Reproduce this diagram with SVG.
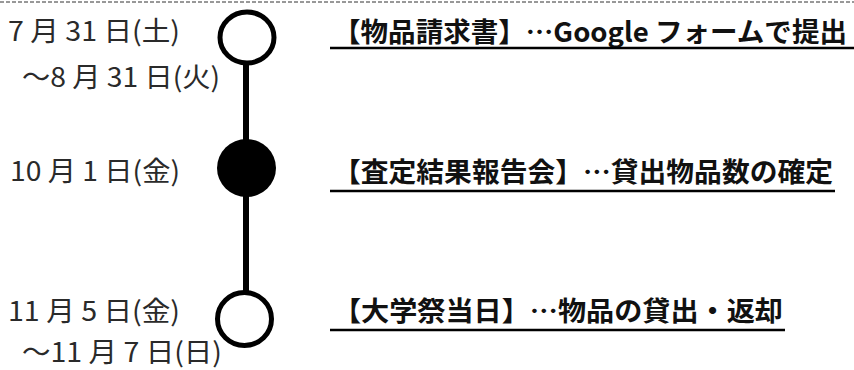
<svg xmlns="http://www.w3.org/2000/svg" width="854" height="370" viewBox="0 0 854 370">
<style>
.date{font-family:"Noto Sans CJK JP","Noto Sans",sans-serif;font-size:27px;fill:#2a2a2a;}
.ev{font-family:"Noto Sans CJK JP","Noto Sans",sans-serif;font-size:27px;font-weight:bold;fill:#111;}
.ul{stroke:#000;stroke-width:2.5;}
.ring{fill:#fff;stroke:#000;stroke-width:5;}
</style>
<rect width="854" height="370" fill="#fff"/>
<line x1="0" y1="2" x2="854" y2="2" stroke="#333" stroke-width="1" stroke-dasharray="4 2"/>
<g id="connectors">
<line x1="246" y1="60" x2="246" y2="292" stroke="#000" stroke-width="6"/>
</g>
<g id="node1">
<ellipse class="ring" cx="247" cy="37.5" rx="27" ry="25.5"/>
<text class="date" x="8" y="41" textLength="172" lengthAdjust="spacingAndGlyphs">7 月 31 日(土)</text>
<text class="date" x="22" y="87" textLength="198" lengthAdjust="spacingAndGlyphs">～8 月 31 日(火)</text>
<text class="ev" x="333" y="42" textLength="514" lengthAdjust="spacingAndGlyphs">【物品請求書】…Google フォームで提出</text>
<line class="ul" x1="330" y1="48" x2="854" y2="48"/>
</g>
<g id="node2">
<ellipse cx="246.5" cy="168" rx="29.5" ry="29" fill="#000"/>
<text class="date" x="10" y="181" textLength="170" lengthAdjust="spacingAndGlyphs">10 月 1 日(金)</text>
<text class="ev" x="333" y="182" textLength="500" lengthAdjust="spacingAndGlyphs">【査定結果報告会】…貸出物品数の確定</text>
<line class="ul" x1="330" y1="191" x2="835" y2="191"/>
</g>
<g id="node3">
<ellipse class="ring" cx="244.5" cy="319" rx="27" ry="26.5"/>
<text class="date" x="8" y="321" textLength="172" lengthAdjust="spacingAndGlyphs">11 月 5 日(金)</text>
<text class="date" x="22" y="362" textLength="200" lengthAdjust="spacingAndGlyphs">～11 月 7 日(日)</text>
<text class="ev" x="333" y="321" textLength="450" lengthAdjust="spacingAndGlyphs">【大学祭当日】…物品の貸出・返却</text>
<line class="ul" x1="330" y1="330" x2="785" y2="330"/>
</g>
</svg>
